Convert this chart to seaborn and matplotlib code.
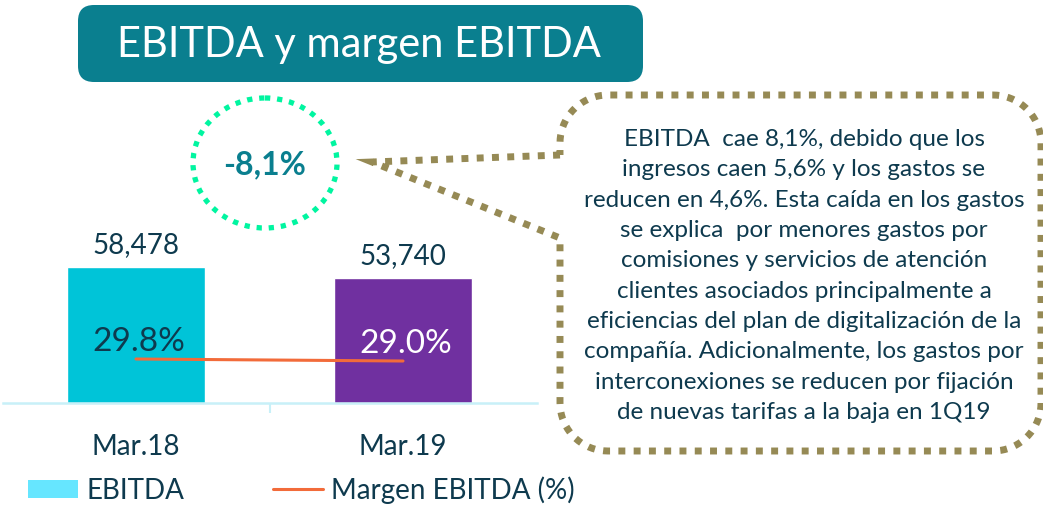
import numpy as np
import pandas as pd
import matplotlib
matplotlib.use("Agg")
import matplotlib.pyplot as plt
import seaborn as sns
from matplotlib.patches import FancyBboxPatch, Ellipse, Patch
from matplotlib.lines import Line2D
from matplotlib.path import Path
from matplotlib.patches import PathPatch

# data
periods = ["Mar.18", "Mar.19"]
ebitda = [58478, 53740]
ebitda_labels = ["58,478", "53,740"]
margin = [29.8, 29.0]
margin_labels = ["29.8%", "29.0%"]
change_label = "-8,1%"
title = "EBITDA y margen EBITDA"
note_lines = [
    "EBITDA  cae 8,1%, debido que los",
    "ingresos caen 5,6% y los gastos se",
    "reducen en 4,6%. Esta caída en los gastos",
    "se explica  por menores gastos por",
    "comisiones y servicios de atención",
    "clientes asociados principalmente a",
    "eficiencias del plan de digitalización de la",
    "compañía. Adicionalmente, los gastos por",
    "interconexiones se reducen por fijación",
    "de nuevas tarifas a la baja en 1Q19",
]

NAVY = "#0E3A4E"
TEAL = "#0A7F8F"
BAR_COLORS = ["#00C4D8", "#7030A0"]
ORANGE = "#F26B3A"
OLIVE = "#968A55"
GREEN = "#00F5A0"

sns.set_theme(style="white")
plt.rcParams["font.family"] = ["Lato", "DejaVu Sans"]

W, H = 1043, 505
fig = plt.figure(figsize=(W / 100, H / 100), dpi=100)

# bar axes in pixel placement
ax = fig.add_axes([2.5 / W, 102 / H, 534 / W, 303 / H])
df = pd.DataFrame({"period": periods, "ebitda": ebitda, "margin": margin})
sns.barplot(data=df, x="period", y="ebitda", hue="period", palette=BAR_COLORS,
            width=0.517, legend=False, ax=ax, saturation=1)
ax.set_xlim(-0.5, 1.5)
ax.set_ylim(0, 130300)
ax.set_xlabel("")
ax.set_ylabel("")
ax.set_yticks([])
for s in ["top", "right", "left"]:
    ax.spines[s].set_visible(False)
ax.spines["bottom"].set_color("#C8F0F8")
ax.spines["bottom"].set_linewidth(1.8)
ax.tick_params(axis="x", length=0, pad=22, labelsize=20, labelcolor=NAVY)
ax.set_xticks([0.5], minor=True)
ax.tick_params(axis="x", which="minor", length=7, width=1.5, color="#C8F0F8",
               direction="out", bottom=True)
for i, v in enumerate(ebitda):
    ax.annotate(ebitda_labels[i], (i, v), xytext=(0, 10), textcoords="offset points",
                ha="center", va="baseline", fontsize=20, color=NAVY)

ax2 = ax.twinx()
sns.lineplot(x=[0, 1], y=margin, color=ORANGE, linewidth=2.2, ax=ax2)
ax2.set_ylim(12.2, 133.4)
ax2.set_yticks([])
ax2.set_xlim(-0.5, 1.5)
for s in ax2.spines.values():
    s.set_visible(False)
label_cols = [NAVY, "white"]
for i, m in enumerate(margin):
    ax2.annotate(margin_labels[i], (i, m), xytext=(2, 6), textcoords="offset points",
                 ha="center", va="baseline", fontsize=24, color=label_cols[i])

# overlay in pixel coordinates for decorations
ov = fig.add_axes([0, 0, 1, 1])
ov.set_xlim(0, W)
ov.set_ylim(H, 0)
ov.axis("off")
ov.patch.set_alpha(0)

ov.add_patch(FancyBboxPatch((78, 5), 565, 77, boxstyle="round,pad=0,rounding_size=16",
                            facecolor=TEAL, edgecolor="none"))
ov.text(359, 45, title, ha="center", va="center", fontsize=30, color="white")

ov.add_patch(Ellipse((265, 163), 144, 130, fill=False, edgecolor=GREEN,
                     linewidth=3.8, linestyle=(0, (1, 1.3))))
ov.text(265, 165, change_label, ha="center", va="center", fontsize=23,
        fontweight="bold", color=TEAL)

# callout shape with pointer
x0, x1, y0, y1, r = 560, 1041, 95, 451, 48


def arc(cx, cy, a0, a1):
    t = np.linspace(np.radians(a0), np.radians(a1), 20)
    return list(zip(cx + r * np.cos(t), cy + r * np.sin(t)))


pts = [(560, 155), (372, 162), (560, 238), (x0, y1 - r)]
pts += arc(x0 + r, y1 - r, 180, 90)
pts += [(x1 - r, y1)]
pts += arc(x1 - r, y1 - r, 90, 0)
pts += [(x1, y0 + r)]
pts += arc(x1 - r, y0 + r, 0, -90)
pts += [(x0 + r, y0)]
pts += arc(x0 + r, y0 + r, -90, -180)
pts += [(560, 155)]
ov.add_patch(PathPatch(Path(pts), fill=False, edgecolor=OLIVE, linewidth=5,
                       linestyle=(0, (1, 1.2)), capstyle="butt", joinstyle="miter"))
ov.text(804, 276, "\n".join(note_lines), ha="center", va="center", multialignment="center",
        fontsize=17.5, color=NAVY, linespacing=1.55)

handles = [Patch(facecolor="#66E6FF", edgecolor="none"),
           Line2D([0], [0], color=ORANGE, linewidth=2.2)]
fig.legend(handles, ["EBITDA", "Margen EBITDA (%)"], loc="center left",
           bbox_to_anchor=(28 / W, 1 - 490 / H), ncol=2, frameon=False, fontsize=20,
           handlelength=1.8, handleheight=0.6, handletextpad=0.3, columnspacing=3.2,
           labelcolor=NAVY, borderpad=0, borderaxespad=0)

fig.savefig("out.png", dpi=100)
